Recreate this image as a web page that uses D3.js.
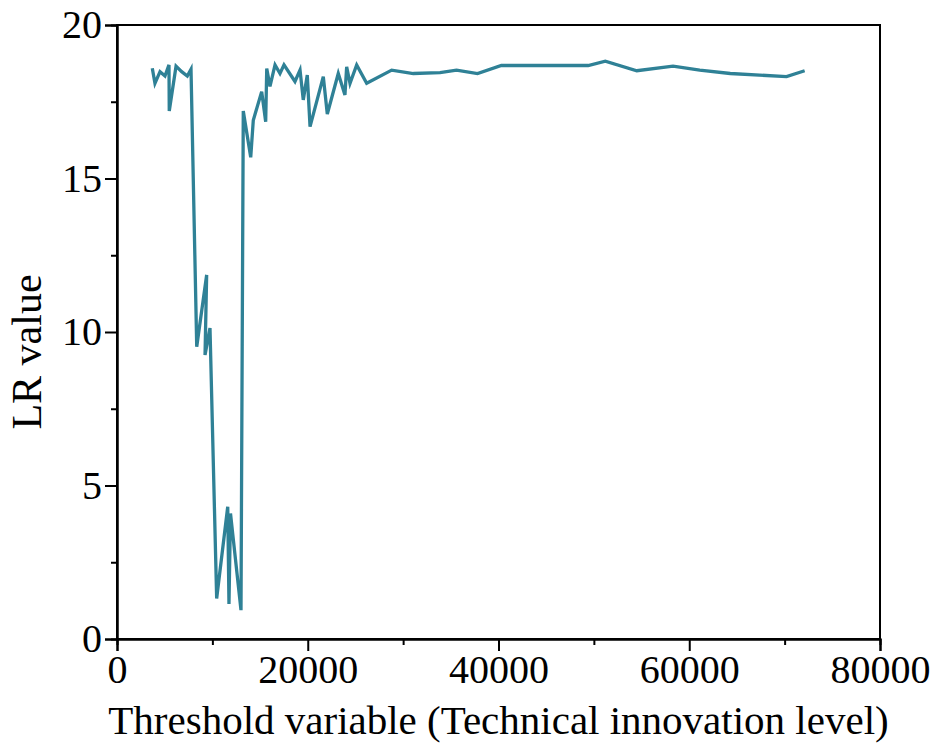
<!DOCTYPE html>
<html>
<head>
<meta charset="utf-8">
<script src="https://cdn.jsdelivr.net/npm/d3@7"></script>
<style>
  body { margin: 0; background: #fff; }
  text { font-family: "Liberation Serif", "Times New Roman", serif; fill: #000; }
</style>
</head>
<body>
<svg width="933" height="743"></svg>
<script>
// threshold variable (x) and LR statistic (y)
const thresholds = [3700, 3980, 4510, 5030, 5450, 5480, 6190, 6780, 7370, 7760,
    8360, 9400, 9230, 9750, 10450, 11610, 11740, 11900, 13000, 13240,
    14020, 14290, 15170, 15590, 15700, 16040, 16570, 17090, 17510, 18660,
    19190, 19530, 19950, 20240, 21630, 22050, 23200, 23900, 24080, 24430,
    25130, 26180, 28800, 31070, 33870, 35600, 37800, 40300, 43300, 49400,
    51200, 54500, 58300, 61100, 64300, 70200, 72100];
const lrValues = [18.59, 18.10, 18.48, 18.34, 18.70, 17.20, 18.66, 18.48, 18.34, 18.56,
    9.52, 11.86, 9.25, 10.13, 1.32, 4.31, 1.14, 4.09, 0.94, 17.20,
    15.69, 16.90, 17.83, 16.85, 18.58, 18.00, 18.70, 18.42, 18.70, 18.16,
    18.53, 17.56, 18.37, 16.69, 18.32, 17.10, 18.42, 17.72, 18.64, 18.10,
    18.70, 18.10, 18.53, 18.42, 18.45, 18.53, 18.42, 18.68, 18.68, 18.68,
    18.82, 18.51, 18.66, 18.53, 18.42, 18.32, 18.51];
const xTicks = [0, 20000, 40000, 60000, 80000];
const xMinor = [10000, 30000, 50000, 70000];
const yTicks = [0, 5, 10, 15, 20];
const yMinor = [2.5, 7.5, 12.5, 17.5];

function Start(){
    const svg = d3.select('svg');
    const width = +svg.attr('width');
    const height = +svg.attr('height');
    const margin = {top: 25, right: 53, bottom: 104, left: 117};
    const innerW = width - margin.left - margin.right;
    const innerH = height - margin.top - margin.bottom;

    const x = d3.scaleLinear().domain([0, 80000]).range([0, innerW]);
    const y = d3.scaleLinear().domain([0, 20]).range([innerH, 0]);

    const g = svg.append('g')
        .attr('transform', `translate(${margin.left},${margin.top})`);

    // frame
    g.append('rect')
        .attr('width', innerW)
        .attr('height', innerH)
        .attr('fill', 'none')
        .attr('stroke', '#000')
        .attr('stroke-width', 2);

    const line = d3.line()
        .x((d, i) => x(thresholds[i]))
        .y(d => y(d));

    g.append('path')
        .datum(lrValues)
        .attr('d', line)
        .attr('fill', 'none')
        .attr('stroke', '#2f8196')
        .attr('stroke-width', 3.3)
        .attr('stroke-linejoin', 'miter');

    const xAxis = g.append('g')
        .attr('transform', `translate(0,${innerH})`)
        .call(d3.axisBottom(x).tickValues(xTicks).tickSize(12).tickPadding(4).tickFormat(d3.format('d')));
    const xAxisMinor = g.append('g')
        .attr('transform', `translate(0,${innerH})`)
        .call(d3.axisBottom(x).tickValues(xMinor).tickSize(6).tickFormat(''));

    const yAxis = g.append('g')
        .call(d3.axisLeft(y).tickValues(yTicks).tickSize(12).tickPadding(3));
    const yAxisMinor = g.append('g')
        .call(d3.axisLeft(y).tickValues(yMinor).tickSize(6).tickFormat(''));

    [xAxis, xAxisMinor, yAxis, yAxisMinor].forEach(a => {
        a.select('.domain').attr('stroke-width', 2);
        a.selectAll('line').attr('stroke-width', 2);
        a.selectAll('text')
            .attr('font-family', '"Liberation Serif", serif')
            .attr('font-size', 40)
            .attr('fill', '#000');
    });

    svg.append('text')
        .attr('x', margin.left + innerW/2)
        .attr('y', 734)
        .attr('text-anchor', 'middle')
        .attr('font-size', 41)
        .text('Threshold variable (Technical innovation level)');

    svg.append('text')
        .attr('transform', 'translate(41,352) rotate(-90)')
        .attr('text-anchor', 'middle')
        .attr('font-size', 42)
        .text('LR value');
}
Start();
</script>
</body>
</html>
